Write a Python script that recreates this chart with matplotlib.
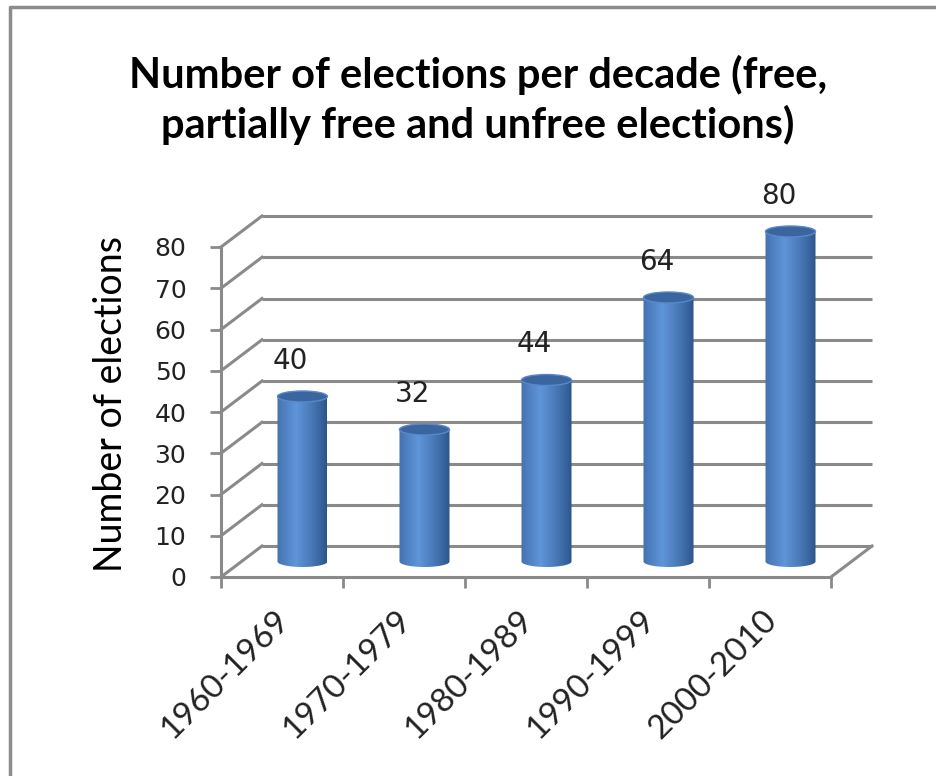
import matplotlib.pyplot as plt
import numpy as np
from matplotlib.patches import Ellipse, Polygon
from matplotlib.lines import Line2D
import matplotlib.colors as mcolors
import matplotlib.transforms as mtransforms

decades = ["1960-1969", "1970-1979", "1980-1989", "1990-1999", "2000-2010"]
elections = [40, 32, 44, 64, 80]
y_ticks = [0, 10, 20, 30, 40, 50, 60, 70, 80]

title = "Number of elections per decade (free,\npartially free and unfree elections)"
ylabel = "Number of elections"

W, H = 937, 776
fig = plt.figure(figsize=(W / 100, H / 100), dpi=100)

# outer frame of the chart area (runs off right/bottom edge)
fig.add_artist(Line2D([10 / W, 10 / W, 1.0], [0.0, 1 - 7 / H, 1 - 7 / H],
                      transform=fig.transFigure, color="#8c8c8c", lw=2.5))

# front plane of the 3d box
ax = fig.add_axes([221 / W, 199 / H, 610 / W, 330 / H])
n = len(decades)
ax.set_xlim(0, n)
ax.set_ylim(0, 80)
ax.patch.set_visible(False)

# depth of the box in data units (pixels -> data)
px_x = n / 610.0
px_y = 80 / 330.0
dx = 41 * px_x
dy = 31 * px_y

grid_c = "#8a8a8a"
for v in y_ticks:
    # back wall line
    ax.plot([dx, n + dx], [v + dy, v + dy], color=grid_c, lw=2.2,
            clip_on=False, solid_capstyle="butt", zorder=1)
    # side wall diagonal
    ax.plot([0, dx], [v, v + dy], color=grid_c, lw=2.2, clip_on=False, zorder=1)
# floor right edge
ax.plot([n, n + dx], [0, dy], color=grid_c, lw=2.2, clip_on=False, zorder=1)

for s in ["top", "right"]:
    ax.spines[s].set_visible(False)
for s in ["left", "bottom"]:
    ax.spines[s].set_color(grid_c)
    ax.spines[s].set_linewidth(2.2)

ax.set_yticks(y_ticks)
ax.set_yticklabels([str(v) for v in y_ticks], fontsize=18, color="#222222")
ax.tick_params(axis="y", length=8, width=2, color=grid_c, pad=17)

ax.set_xticks(np.arange(n + 1))
ax.set_xticklabels([])
ax.tick_params(axis="x", which="major", length=8, width=2, color=grid_c)
ax.set_xticks(np.arange(n) + 0.5, minor=True)
ax.set_xticklabels(decades, minor=True, rotation=45, ha="right",
                   rotation_mode="anchor", fontsize=24, family="Lato",
                   color="#222222")
ax.tick_params(axis="x", which="minor", length=0, pad=20)
shift = mtransforms.ScaledTranslation(-8 / 100, 0, fig.dpi_scale_trans)
for lab in ax.get_xticklabels(minor=True):
    lab.set_transform(lab.get_transform() + shift)

ax.set_ylabel(ylabel, fontsize=27, family="Lato")
ax.yaxis.set_label_coords(-0.15, 0.525)

# cylinders
cw = 50 * px_x
eh = 11 * px_y
light = np.array(mcolors.to_rgb("#5f95da"))
dark = np.array(mcolors.to_rgb("#2a5288"))
t = np.linspace(0, 1, 120)
prof = np.clip(1 - np.abs(t - 0.38) / 0.62, 0, 1) ** 0.8
grad = dark[None, :] + (light - dark)[None, :] * prof[:, None]
grad = grad[None, :, :]

for i, v in enumerate(elections):
    cx = i + 0.5 + dx / 2
    y0 = dy / 2
    th = np.linspace(np.pi, 2 * np.pi, 60)
    pts = [(cx - cw / 2, y0 + v)]
    pts += [(cx + cw / 2 * np.cos(a), y0 + eh / 2 * np.sin(a)) for a in th]
    pts += [(cx + cw / 2, y0 + v)]
    body = Polygon(pts, closed=True, facecolor="none", edgecolor="none")
    ax.add_patch(body)
    im = ax.imshow(grad, extent=[cx - cw / 2, cx + cw / 2, y0 - eh, y0 + v],
                   aspect="auto", zorder=3, interpolation="bilinear")
    im.set_clip_box(fig.bbox)
    im.set_clip_path(body)
    top = Ellipse((cx, y0 + v), cw, eh, facecolor="#3a659f",
                  edgecolor="#5a88c8", lw=1, zorder=4, clip_on=False)
    ax.add_patch(top)
    ax.annotate(str(v), (i + 0.5, v), xytext=(6, 37), textcoords="offset points",
                ha="center", va="center", fontsize=20, color="#222222",
                annotation_clip=False)

ax.set_xlim(0, n)
ax.set_ylim(0, 80)

fig.text(478 / W, 1 - 100 / H, title, ha="center", va="center", fontsize=30,
         family="Lato", weight="bold", linespacing=1.3)

fig.savefig("out.png", dpi=100)
